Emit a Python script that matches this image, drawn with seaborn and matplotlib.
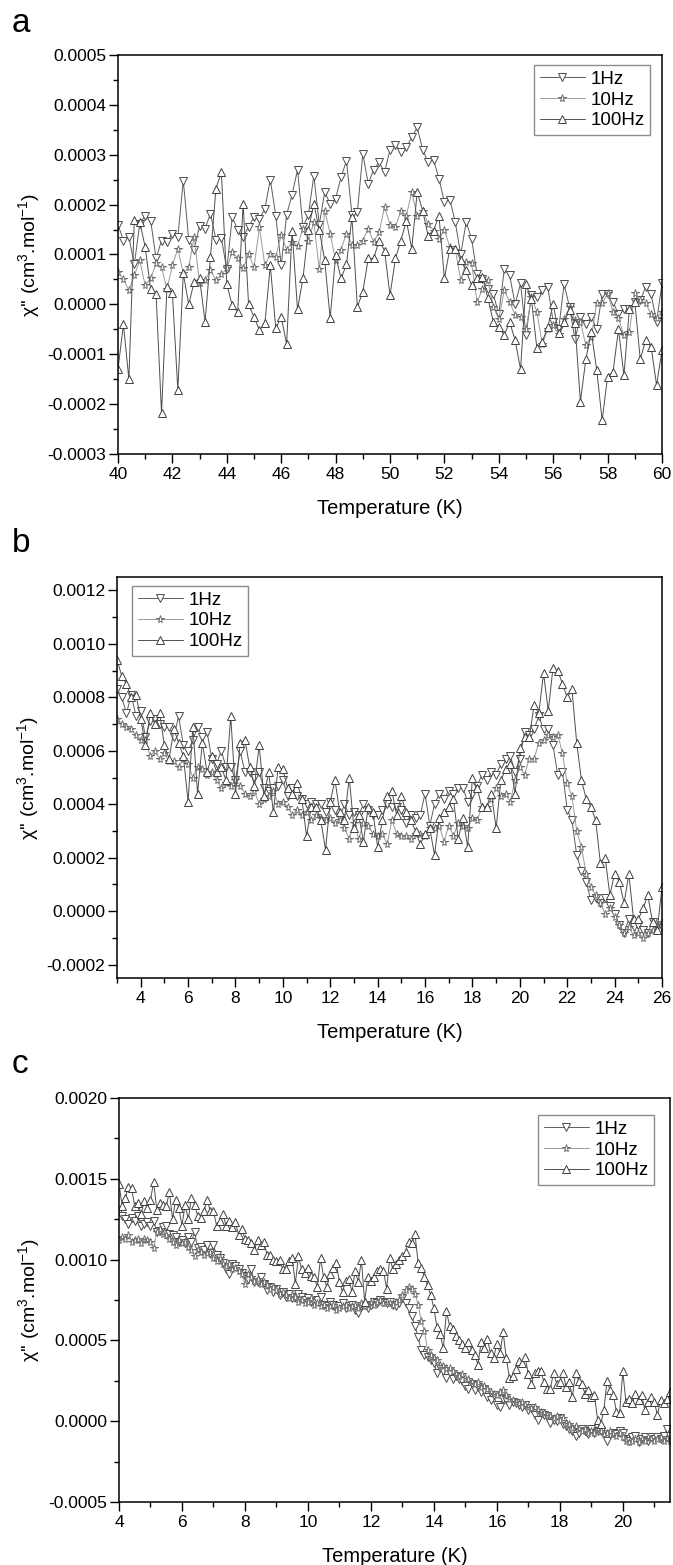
import numpy as np
import matplotlib
matplotlib.use("Agg")
import matplotlib.pyplot as plt
import seaborn as sns
from matplotlib.ticker import MultipleLocator, FormatStrFormatter

# ---------------- data (chi'' values in units of 1e-4 cm^3/mol) ----------------
SERIES_LABELS = ["1Hz", "10Hz", "100Hz"]

# Panel a: T = 40.0 ... 60.0 K, step 0.2 K
A_T_START, A_T_STEP = 40.0, 0.2
a_1hz = [1.60, 1.28, 1.35, 0.80, 1.62, 1.78, 1.68, 0.92, 1.28, 1.25,
         1.42, 1.35, 2.48, 1.30, 1.10, 1.58, 1.52, 1.82, 1.30, 1.33,
         0.70, 1.75, 1.50, 1.35, 1.55, 1.75, 1.72, 1.92, 2.50, 1.78,
         0.78, 1.80, 2.20, 2.70, 1.55, 1.80, 2.58, 1.60, 2.25, 2.02,
         2.12, 2.55, 2.88, 1.80, 1.85, 3.02, 2.42, 2.70, 2.85, 2.65,
         3.10, 3.20, 3.05, 3.15, 3.35, 3.55, 3.10, 2.85, 2.90, 2.52,
         2.05, 2.10, 1.65, 1.00, 1.65, 1.32, 0.60, 0.50, 0.30, 0.20,
         -0.20, 0.70, 0.58, 0.00, 0.42, -0.62, 0.18, 0.15, 0.28, 0.35,
         -0.35, -0.50, 0.40, -0.05, -0.70, -0.25, -0.40, -0.25, -0.50, 0.20,
         0.20, 0.05, -0.20, -0.10, -0.10, 0.05, 0.08, 0.35, 0.20, -0.35,
         0.42]
a_10hz = [0.65, 0.50, 0.28, 0.58, 0.88, 0.38, 0.52, 0.82, 0.75, 0.30,
          0.78, 1.12, 0.62, 0.75, 1.35, 0.42, 0.48, 0.68, 0.48, 0.60,
          0.72, 1.05, 0.92, 0.72, 1.00, 0.75, 1.55, 0.78, 1.02, 0.95,
          1.40, 1.10, 1.25, 1.18, 1.52, 1.28, 1.65, 0.70, 1.88, 1.42,
          0.88, 1.10, 1.42, 1.20, 1.20, 1.28, 1.52, 1.25, 1.45, 1.95,
          1.60, 1.55, 1.88, 1.78, 2.25, 1.78, 1.88, 1.62, 1.48, 1.32,
          1.50, 1.15, 1.10, 0.48, 0.85, 0.82, 0.05, 0.30, 0.48, -0.05,
          -0.30, 0.28, 0.05, -0.22, -0.25, -0.50, 0.15, -0.15, -0.80, -0.50,
          -0.42, -0.60, -0.30, -0.05, -0.32, -0.35, -0.82, -0.65, 0.02, 0.02,
          0.22, -0.15, -0.28, -0.62, -0.55, 0.22, 0.08, 0.02, -0.20, -0.28,
          -0.15]
a_100hz = [-1.30, -0.40, -1.50, 1.70, 1.65, 1.15, 0.30, 0.20, -2.18, 0.35,
           0.22, -1.72, 0.62, 0.00, 0.45, 0.52, -0.35, 0.95, 2.32, 2.65,
           0.40, -0.02, -0.15, 2.02, 0.00, -0.25, -0.52, -0.38, 0.78, -0.48,
           -0.25, -0.80, 1.48, -0.10, 0.52, 1.50, 2.02, 1.50, 0.88, -0.28,
           0.98, 0.52, 0.80, 1.75, -0.05, 0.25, 0.92, 0.92, 1.28, 1.08,
           0.18, 0.92, 1.28, 1.68, 1.12, 2.25, 1.88, 1.38, 1.48, 1.78,
           0.52, 1.12, 1.12, 0.88, 0.68, 0.38, 0.52, 0.55, 0.12, -0.35,
           -0.45, -0.62, -0.35, -0.72, -1.30, 0.40, 0.10, -0.88, -0.75, -0.45,
           0.00, -0.58, -0.35, -0.12, -0.38, -1.95, -1.10, -0.55, -1.32, -2.32,
           -1.45, -1.35, -0.50, -1.42, -0.10, 0.05, -1.10, -0.72, -0.85, -1.62,
           -0.92]

# Panel b: T = 3.0 ... 26.0 K, step 0.2 K
B_T_START, B_T_STEP = 3.0, 0.2
b_1hz = [8.3, 8.0, 7.4, 8.1, 7.3, 7.5, 6.5, 7.1, 7.2, 7.0,
         6.9, 6.9, 6.5, 7.3, 6.2, 6.0, 6.4, 6.9, 6.5, 6.7,
         5.7, 5.5, 6.0, 5.4, 5.4, 4.9, 6.0, 5.2, 5.2, 5.0,
         5.2, 4.6, 4.5, 4.6, 4.7, 4.9, 4.3, 4.6, 4.3, 4.2,
         4.0, 4.1, 4.0, 4.0, 3.7, 4.1, 3.8, 3.5, 4.0, 3.6,
         3.7, 3.6, 4.0, 3.8, 3.6, 3.6, 3.8, 4.0, 3.9, 3.9,
         3.8, 3.3, 3.6, 3.5, 3.6, 4.4, 3.2, 4.0, 4.4, 4.2,
         4.5, 4.4, 4.6, 4.6, 4.1, 4.4, 4.7, 5.1, 4.9, 5.2,
         5.1, 5.5, 5.7, 5.8, 5.2, 5.7, 6.7, 6.6, 6.8, 7.3,
         6.8, 6.8, 6.2, 5.1, 5.2, 3.8, 3.4, 2.1, 1.5, 1.1,
         0.4, 0.5, 0.3, 0.5, 0.2, -0.1, -0.5, -0.8, -0.3, -0.6,
         -0.5, -0.7, -0.8, -0.4, -0.6, -0.6]
b_10hz = [7.2, 7.0, 6.9, 6.8, 6.6, 6.4, 6.4, 5.8, 6.0, 5.7,
          5.9, 5.6, 5.6, 5.4, 5.7, 5.5, 5.0, 5.4, 5.3, 5.1,
          5.2, 4.9, 4.6, 4.8, 4.7, 4.9, 4.7, 4.4, 4.3, 4.5,
          4.0, 4.2, 4.3, 4.5, 4.0, 4.1, 3.9, 3.6, 3.8, 3.6,
          3.7, 3.4, 3.6, 3.5, 3.4, 3.5, 3.3, 3.4, 3.1, 2.7,
          3.3, 2.7, 3.3, 3.2, 2.9, 2.8, 2.9, 2.5, 3.4, 2.9,
          2.8, 2.8, 2.7, 2.9, 2.9, 2.8, 3.1, 3.1, 3.2, 2.6,
          3.2, 2.8, 3.3, 3.2, 3.1, 3.5, 3.4, 3.9, 3.9, 4.2,
          4.6, 4.3, 4.4, 4.1, 4.9, 5.4, 5.1, 5.7, 5.7, 6.3,
          6.4, 6.6, 6.5, 6.6, 5.9, 4.8, 4.3, 3.0, 2.4, 1.4,
          0.9, 0.6, 0.3, -0.1, 0.1, -0.2, -0.5, -0.8, -0.6, -0.9,
          -0.8, -1.0, -0.8, -0.7, -0.5, -0.4]
b_100hz = [9.4, 8.8, 8.5, 8.0, 8.1, 7.2, 6.2, 7.4, 7.0, 7.4,
           6.2, 5.7, 6.8, 6.3, 5.8, 4.1, 6.9, 4.4, 6.3, 5.2,
           5.8, 5.2, 5.4, 4.9, 7.3, 4.4, 6.3, 6.4, 5.4, 4.7,
           6.2, 4.3, 5.2, 3.7, 5.4, 5.3, 4.6, 4.4, 4.8, 4.2,
           2.8, 3.9, 3.9, 3.4, 2.3, 4.1, 4.9, 3.7, 3.4, 5.0,
           3.1, 3.6, 2.6, 3.9, 3.7, 2.4, 3.4, 4.3, 4.5, 3.6,
           4.3, 3.7, 3.4, 3.0, 2.5, 2.9, 3.1, 2.1, 3.5, 3.7,
           3.9, 4.2, 2.7, 3.5, 2.4, 5.0, 4.6, 3.9, 3.9, 4.4,
           3.1, 4.9, 5.3, 5.5, 4.4, 6.1, 6.5, 6.5, 7.7, 7.4,
           8.9, 7.5, 9.1, 9.0, 8.5, 8.0, 8.3, 6.3, 4.9, 4.2,
           3.9, 3.4, 1.8, 2.0, 0.6, 1.4, 1.1, 0.3, 1.4, -0.3,
           -0.3, 0.1, 0.6, -0.4, -0.7, 0.9]

# Panel c: T = 4.0 ... 21.5 K, step 0.1 K
C_T_START, C_T_STEP = 4.0, 0.1
c_1hz = [13.0, 12.7, 12.5, 12.2, 12.6, 12.4, 12.7, 12.1, 12.2, 12.3,
         12.1, 12.4, 11.7, 11.8, 12.0, 12.1, 11.6, 11.5, 11.4, 11.1,
         11.2, 11.0, 11.4, 11.1, 11.7, 10.7, 10.8, 10.6, 10.9, 10.4,
         10.9, 10.3, 10.1, 9.8, 9.4, 9.1, 9.7, 9.6, 9.4, 9.2,
         9.0, 8.8, 9.4, 8.6, 8.6, 8.9, 8.5, 8.1, 8.3, 8.0,
         8.2, 7.8, 8.0, 7.7, 7.9, 7.6, 7.7, 7.9, 7.7, 7.5,
         7.6, 7.4, 7.3, 7.5, 7.7, 7.2, 7.1, 7.4, 7.2, 7.0,
         7.1, 7.3, 7.0, 7.1, 7.2, 6.9, 6.7, 7.1, 7.2, 7.0,
         7.2, 7.4, 7.3, 7.5, 7.4, 7.3, 7.4, 7.2, 7.1, 7.3,
         7.6, 7.3, 7.0, 6.5, 5.9, 5.2, 4.4, 4.1, 4.0, 3.8,
         3.6, 3.0, 3.3, 3.1, 2.7, 3.0, 2.6, 2.8, 2.6, 2.5,
         2.2, 2.0, 2.3, 1.9, 2.1, 1.8, 1.9, 1.5, 1.3, 1.6,
         1.0, 0.9, 1.4, 1.3, 1.0, 1.2, 1.1, 1.0, 0.9, 1.0,
         0.7, 0.8, 0.4, 0.1, 0.5, 0.4, 0.3, -0.1, 0.1, 0.0,
         0.2, -0.2, -0.3, -0.5, -0.6, -0.9, -0.7, -0.5, -0.6, -0.8,
         -0.5, -0.7, -0.6, -0.6, -0.8, -1.2, -0.8, -0.7, -0.8, -0.6,
         -0.7, -1.1, -1.2, -1.0, -0.9, -1.3, -1.1, -1.0, -1.2, -1.0,
         -1.1, -1.0, -1.1, -0.9, -0.5, -0.9]
c_10hz = [11.2, 11.4, 11.3, 11.5, 11.1, 11.2, 11.3, 11.0, 11.3, 11.2,
          11.1, 10.7, 11.7, 11.9, 11.6, 11.5, 11.3, 11.1, 10.9, 11.2,
          11.0, 11.1, 10.8, 10.6, 10.2, 10.6, 10.5, 10.3, 10.4, 10.5,
          10.1, 9.9, 10.1, 9.7, 9.6, 9.7, 9.4, 9.5, 9.3, 9.1,
          8.5, 9.1, 8.9, 8.7, 8.8, 8.5, 8.6, 8.4, 8.2, 8.3,
          8.1, 7.9, 8.0, 7.8, 7.6, 7.8, 7.7, 7.4, 7.5, 7.3,
          7.4, 7.6, 7.2, 7.3, 7.1, 7.2, 7.0, 7.1, 7.2, 6.9,
          7.0, 7.1, 7.2, 7.0, 7.1, 7.2, 7.0, 7.3, 7.1, 7.2,
          7.3, 7.2, 7.4, 7.5, 7.3, 7.4, 7.3, 7.2, 7.4, 7.5,
          7.8, 8.1, 8.3, 8.2, 7.9, 7.2, 6.2, 5.6, 4.4, 4.1,
          3.9, 3.8, 3.5, 3.4, 3.3, 3.3, 3.1, 2.9, 2.8, 2.9,
          2.7, 2.6, 2.4, 2.3, 2.4, 2.1, 2.2, 2.0, 1.8, 1.7,
          1.6, 1.8, 1.9, 1.6, 1.4, 1.3, 1.2, 1.1, 1.2, 1.0,
          0.9, 0.8, 0.9, 0.7, 0.6, 0.5, 0.4, 0.3, 0.2, 0.3,
          0.1, 0.2, -0.1, -0.2, -0.4, -0.3, -0.5, -0.6, -0.5, -0.7,
          -0.6, -0.7, -0.5, -0.6, -0.8, -0.7, -0.6, -0.8, -0.9, -0.7,
          -1.0, -1.2, -1.3, -1.2, -1.1, -1.3, -1.1, -1.2, -1.0, -1.1,
          -1.2, -1.1, -1.0, -1.2, -1.1, -1.2]
c_100hz = [14.7, 13.3, 13.8, 14.5, 14.4, 13.3, 13.5, 12.8, 13.6, 13.2,
           13.7, 14.8, 13.1, 13.5, 13.4, 13.3, 14.2, 12.5, 13.7, 13.2,
           12.1, 13.4, 12.5, 13.8, 13.4, 12.7, 12.6, 13.0, 13.7, 13.0,
           13.0, 12.1, 12.4, 12.8, 12.1, 12.4, 12.0, 12.3, 11.5, 11.9,
           11.3, 11.2, 11.0, 10.6, 11.2, 10.9, 11.1, 10.3, 10.3, 10.0,
           9.9, 10.0, 9.4, 9.4, 9.9, 10.1, 8.5, 10.2, 9.4, 9.2,
           9.5, 9.0, 8.9, 8.3, 10.1, 8.9, 8.3, 9.1, 9.5, 9.8,
           8.6, 8.0, 8.7, 8.8, 8.0, 9.3, 8.6, 10.0, 7.4, 8.9,
           8.7, 8.9, 9.3, 9.4, 9.3, 8.2, 10.1, 9.4, 9.7, 10.0,
           10.2, 10.5, 11.1, 11.0, 11.6, 9.8, 9.5, 8.9, 8.4, 7.8,
           7.0, 5.8, 5.4, 4.5, 6.8, 5.9, 5.7, 5.3, 5.0, 4.8,
           4.5, 4.9, 4.4, 4.1, 3.5, 4.9, 4.5, 5.1, 4.2, 3.9,
           4.8, 4.2, 5.5, 3.9, 2.7, 2.8, 3.2, 3.7, 3.6, 4.0,
           2.9, 2.3, 3.0, 3.1, 3.1, 2.4, 2.0, 2.0, 3.0, 2.3,
           2.4, 3.0, 2.1, 2.4, 1.5, 3.0, 2.5, 2.3, 1.7, 1.9,
           1.5, 1.6, 0.1, -0.2, 0.7, 2.5, 1.9, 1.6, 0.6, 0.5,
           3.1, 1.2, 1.4, 1.1, 1.7, 1.3, 1.6, 0.7, 1.2, 1.5,
           1.2, 0.4, 1.3, 1.1, 1.4, 1.8]

UNIT = 1e-4

# ---------------- styling ----------------
sns.set_style("ticks")
plt.rcParams['font.family'] = ['Liberation Sans', 'DejaVu Sans']
plt.rcParams['mathtext.fontset'] = 'custom'
plt.rcParams['mathtext.rm'] = 'Liberation Sans'
plt.rcParams['mathtext.it'] = 'Liberation Sans:italic'
plt.rcParams['mathtext.bf'] = 'Liberation Sans:bold'
plt.rcParams['text.color'] = 'black'
plt.rcParams['axes.labelcolor'] = 'black'
plt.rcParams['xtick.color'] = 'black'
plt.rcParams['ytick.color'] = 'black'

MARKERS = ['v', '*', '^']
LINE_COLORS = ['#5c5c5c', '#9a9a9a', '#4e4e4e']
EDGE_COLORS = ['#4a4a4a', '#6e6e6e', '#3e3e3e']
MSIZES = [6.3, 5.8, 6.3]

fig = plt.figure(figsize=(6.73, 15.65), dpi=100)
W, H = 673.0, 1565.0

panels = [
    dict(letter='a', box=(118, 55, 662, 454), start=A_T_START, step=A_T_STEP,
         series=[a_1hz, a_10hz, a_100hz], xlim=(40, 60), ylim=(-0.0003, 0.0005),
         xmaj=2, xmin=1, ymaj=0.0001, ymin=0.00005,
         leg_loc='upper right', leg_anchor=(0.978, 0.975), letter_y=32),
    dict(letter='b', box=(117, 577, 662, 978), start=B_T_START, step=B_T_STEP,
         series=[b_1hz, b_10hz, b_100hz], xlim=(3, 26), ylim=(-0.00025, 0.00125),
         xmaj=2, xmin=1, ymaj=0.0002, ymin=0.0001,
         leg_loc='upper left', leg_anchor=(0.0275, 0.978), letter_y=552),
    dict(letter='c', box=(119, 1098, 670, 1502), start=C_T_START, step=C_T_STEP,
         series=[c_1hz, c_10hz, c_100hz], xlim=(4, 21.5), ylim=(-0.0005, 0.0020),
         xmaj=2, xmin=1, ymaj=0.0005, ymin=0.00025,
         leg_loc='upper right', leg_anchor=(0.971, 0.958), letter_y=1073),
]

for p in panels:
    x0, y0, x1, y1 = p['box']
    ax = fig.add_axes([x0 / W, 1 - y1 / H, (x1 - x0) / W, (y1 - y0) / H])
    for vals, lab, mk, lc, ec, ms in zip(p['series'], SERIES_LABELS, MARKERS,
                                         LINE_COLORS, EDGE_COLORS, MSIZES):
        vals = np.asarray(vals, dtype=float) * UNIT
        temps = np.round(p['start'] + p['step'] * np.arange(len(vals)), 3)
        sns.lineplot(x=temps, y=vals, ax=ax, estimator=None, sort=False,
                     color=lc, linewidth=0.7, marker=mk, markersize=ms,
                     markerfacecolor='white', markeredgecolor=ec,
                     markeredgewidth=0.7, label=lab)
    ax.set_xlim(*p['xlim'])
    ax.set_ylim(*p['ylim'])
    ax.xaxis.set_major_locator(MultipleLocator(p['xmaj']))
    ax.xaxis.set_minor_locator(MultipleLocator(p['xmin']))
    ax.yaxis.set_major_locator(MultipleLocator(p['ymaj']))
    ax.yaxis.set_minor_locator(MultipleLocator(p['ymin']))
    ax.yaxis.set_major_formatter(FormatStrFormatter('%.4f'))
    ax.xaxis.set_major_formatter(FormatStrFormatter('%d'))
    ax.tick_params(which='major', direction='out', length=6.5, width=1.0,
                   labelsize=12.5, top=False, right=False)
    ax.tick_params(which='minor', direction='out', length=3.6, width=1.0,
                   top=False, right=False)
    ax.tick_params(axis='x', which='major', pad=3)
    ax.tick_params(axis='y', which='major', pad=2)
    for s in ax.spines.values():
        s.set_visible(True)
        s.set_linewidth(1.1)
        s.set_color('black')
    ax.set_xlabel('Temperature (K)', fontsize=14.5)
    ax.set_ylabel("χ'' (cm$^{3}$.mol$^{-1}$)", fontsize=14)
    ax.xaxis.set_label_coords(0.5, -0.112)
    ax.yaxis.set_label_coords(-0.14, 0.5)
    leg = ax.legend(loc=p['leg_loc'], bbox_to_anchor=p['leg_anchor'],
                    borderaxespad=0, frameon=True, fancybox=False,
                    edgecolor='#8c8c8c', framealpha=1, fontsize=13.5,
                    handlelength=2.4, handletextpad=0.3, labelspacing=0.2,
                    borderpad=0.3)
    leg.get_frame().set_linewidth(1.0)
    fig.text(12 / W, 1 - p['letter_y'] / H, p['letter'], fontsize=24,
             va='baseline', ha='left')

fig.savefig('out.png', dpi=100)
